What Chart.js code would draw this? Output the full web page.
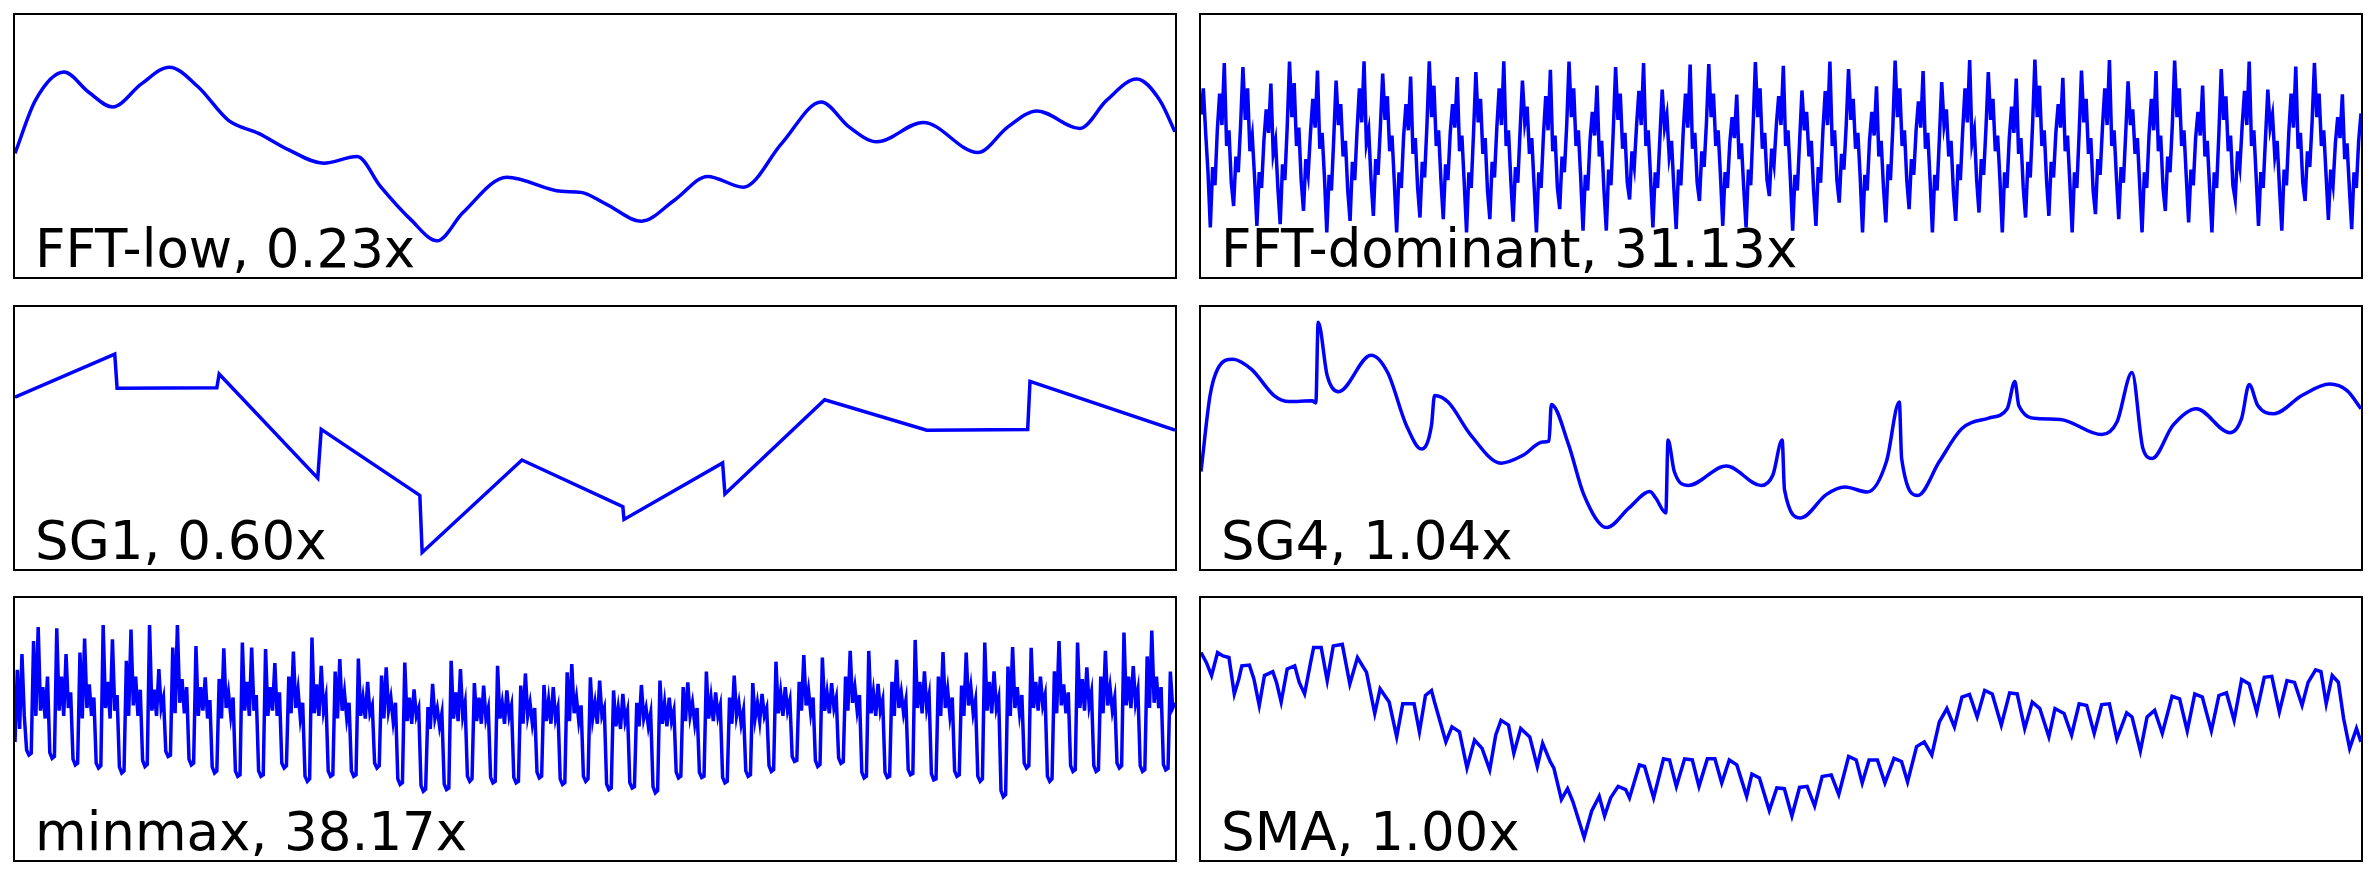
<!DOCTYPE html>
<html lang="en">
<head>
  <meta charset="UTF-8">
  <title>Downsampling comparison</title>
  <script src="https://cdn.jsdelivr.net/npm/chart.js@4.4.1/dist/chart.umd.min.js"></script>
  <style>
    html, body { margin: 0; padding: 0; background: #fff; }
    body { width: 2376px; height: 876px; position: relative; overflow: hidden; }
    .panel { position: absolute; width: 1160px; height: 262px; border: 2px solid #000; }
    .panel canvas { position: absolute; left: 0; top: 0; }
    .label {
      position: absolute; left: 20px; top: 207px;
      font-family: 'DejaVu Sans', sans-serif; font-size: 53px; line-height: 53px;
      color: #000; white-space: nowrap; pointer-events: none;
    }
  </style>
</head>
<body>
  <script>
    // labels of the six panels
    const titles = ['FFT-low, 0.23x', 'FFT-dominant, 31.13x', 'SG1, 0.60x', 'SG4, 1.04x', 'minmax, 38.17x', 'SMA, 1.00x'];

    // values: x in 0..1000 across the panel, y in 0..100 of the panel height
    const fftLowX = [0, 17.6, 42.4, 63.3, 84.2, 109, 133, 158, 184, 210, 236, 266, 295, 315, 341, 364, 386, 424, 471, 488, 510, 540, 569, 597, 628, 661, 695, 719, 743, 783, 830, 856, 881, 918, 941, 967, 987, 1000];
    const fftLowY = [47.2, 67.4, 78.2, 70.6, 64.9, 73.7, 80.1, 72.5, 59.8, 54.8, 48.5, 43.4, 46.0, 34.6, 22.0, 13.8, 24.5, 38.1, 32.7, 32.3, 27.7, 21.3, 29.5, 38.4, 34.3, 51.0, 66.8, 57.3, 51.6, 59.0, 47.5, 57.3, 63.4, 56.7, 67.4, 75.6, 67.4, 55.4];

    const sg1X = [0, 86, 88, 174, 176, 261, 264, 349, 351, 437, 524, 525, 610, 612, 698, 786, 873, 875, 1000];
    const sg1Y = [65.6, 82.0, 69.0, 69.2, 74.4, 34.7, 53.3, 28.1, 6.3, 41.6, 23.8, 18.9, 40.5, 28.6, 64.6, 53.0, 53.2, 71.6, 53.0];

    const sg4X = [0, 7.8, 14.3, 27.4, 43.6, 63, 76, 95.8, 99, 101, 108.8, 118.6, 146.6, 160.9, 177, 190, 198.7, 201.3, 213, 232.6, 258.6, 278, 294.5, 300, 302, 317, 330, 349.8, 369, 387, 392, 400.7, 402.6, 408, 420, 452.8, 483, 493, 501, 503, 517, 539, 555, 574.6, 590.9, 602, 604, 618, 636.5, 656, 679, 695, 701.6, 705, 721, 740.7, 776.5, 789.6, 802.6, 812, 820, 838, 858, 887, 897, 903.6, 911, 925, 949, 973, 988, 1000];
    const sg4Y = [37.2, 66.2, 76.3, 80.1, 76.2, 66.2, 63.9, 64.2, 63.4, 94.2, 73.8, 67.7, 81.6, 75.0, 54.9, 45.8, 54.9, 66.2, 63.7, 51.1, 40.4, 43.5, 48.5, 48.8, 62.8, 47.3, 28.4, 15.8, 23.3, 29.6, 27.1, 21.4, 49.2, 37.2, 31.9, 39.3, 31.9, 35.9, 49.2, 30.3, 19.5, 28.4, 31.3, 29.4, 41.0, 63.7, 42.2, 28.1, 41.0, 53.6, 57.6, 61.2, 71.6, 62.4, 57.4, 57.1, 51.3, 56.1, 75.0, 46.0, 42.2, 54.9, 61.2, 52.0, 57.4, 70.4, 62.4, 59.3, 66.2, 70.6, 68.1, 61.2];

    const smaX = [0, 4.6, 9.1, 14.3, 18.9, 24.1, 28.7, 32.6, 35.2, 41.7, 45.6, 50.2, 54.7, 61.9, 65.1, 69.1, 74.3, 80.8, 84.7, 89.3,
      94.5, 97.1, 103.6, 108.8, 114, 121.8, 128.3, 134.9, 142.7, 149.8, 154.4, 162.2, 168.7, 173.9, 183.7, 188.3, 193.5, 198.7, 201.3, 211.1,
      216.3, 222.8, 229.3, 235.8, 242.3, 248.9, 254.1, 258.6, 265.1, 269.7, 275.6, 283.4, 289.9, 294.5, 301, 304.2, 310.7, 316, 320.5, 330.3,
      336.8, 343.3, 347.9, 353.1, 359.6, 366.1, 369.4, 377.9, 382.4, 390.2, 398.7, 403.9, 409.8, 416.9, 423.5, 429.3, 436.5, 443, 448.9, 455.4,
      461.9, 470.4, 474.9, 481.4, 489.9, 496.4, 502.9, 509.4, 516, 522.5, 529, 535.5, 543.3, 549.8, 558.3, 564.8, 570, 575.9, 583.1, 589.6,
      597.4, 603.9, 609.1, 616.9, 623.5, 630, 636.5, 643, 649.5, 656, 662.5, 669.1, 675.6, 682.1, 689.9, 697.1, 703.6, 710.1, 716.6, 723.1,
      730.9, 736.2, 744, 750.5, 757, 763.5, 770, 776.5, 783.1, 789.6, 798, 802.6, 809.8, 815.6, 822.1, 828.7, 837.1, 843.6, 850.2, 856.7,
      863.2, 871, 877.5, 884, 890.6, 897.1, 903.6, 910.1, 916.6, 923.1, 929.6, 936.2, 942.7, 949.2, 954.4, 960.9, 965.5, 970, 975.2, 980.5,
      985, 990.2, 996.1, 1000];
    const smaY = [79.2, 75.4, 70.4, 79.2, 77.9, 77.3, 63.4, 69.1, 74.1, 74.4, 69.1, 59.0, 70.4, 71.9, 67.8, 60.3, 72.9, 74.1, 67.8, 63.4,
      75.4, 81.1, 81.1, 68.5, 81.7, 82.3, 67.2, 77.3, 71.6, 55.9, 65.3, 60.3, 47.0, 59.6, 59.6, 48.9, 62.8, 64.7, 60.3, 45.1,
      50.8, 48.9, 35.1, 45.8, 42.6, 34.4, 47.7, 53.3, 51.5, 40.7, 50.2, 47.0, 35.7, 44.5, 37.6, 35.1, 23.1, 27.2, 22.4, 8.6,
      18.7, 24.3, 16.8, 23.7, 28.1, 26.9, 23.7, 36.3, 35.7, 23.7, 38.6, 38.2, 28.1, 38.6, 38.2, 28.1, 38.6, 38.6, 29.4, 38.2,
      36.3, 24.3, 32.8, 31.3, 18.9, 27.5, 27.2, 16.8, 27.7, 28.1, 20.6, 31.9, 32.5, 25.0, 39.5, 38.2, 29.4, 38.2, 38.2, 29.4,
      38.8, 37.6, 29.8, 43.3, 45.1, 40.1, 52.7, 57.8, 50.8, 62.2, 63.2, 54.6, 64.7, 63.4, 51.5, 63.8, 63.4, 50.2, 60.3, 57.8,
      47.0, 57.8, 55.9, 47.7, 59.6, 59.0, 48.3, 59.3, 59.6, 46.2, 56.2, 54.6, 41.6, 54.6, 57.1, 48.3, 62.5, 61.5, 49.3, 63.4,
      62.2, 49.3, 62.8, 63.8, 53.3, 68.9, 67.2, 56.5, 69.7, 70.1, 56.5, 68.5, 67.8, 59.0, 67.8, 72.6, 71.9, 59.6, 70.4, 67.8,
      54.0, 42.6, 50.2, 45.1];

    // dense series: evenly spaced samples, one row per cycle (trough first)
    const fftDomY = [62, 72, 55, 40,
      18.9, 42, 35, 56, 70, 58, 81.7, 50, 56, 36,
      27.1, 46, 40, 58, 80.1, 60, 72, 48, 54, 38,
      19.5, 40, 34, 52, 64, 55, 73.8, 47, 52, 34,
      20.2, 43, 37, 57, 82.2, 61, 74, 50, 57, 37,
      25.2, 45, 39, 55, 68, 57, 78.8, 49, 55, 38,
      17.0, 39, 33, 53, 75.0, 58, 66, 46, 52, 33,
      21.4, 44, 37, 56, 72, 59, 82.3, 51, 56, 37,
      23.3, 45, 39, 57, 77.6, 60, 69, 48, 54, 36,
      17.0, 40, 34, 54, 66, 56, 76.5, 47, 53, 34,
      22.7, 44, 38, 58, 82.3, 61, 73, 50, 56, 37,
      22.1, 43, 37, 55, 66, 57, 76.3, 48, 54, 36,
      17.0, 40, 34, 55, 78.2, 59, 68, 47, 53, 33,
      22.1, 44, 38, 57, 72, 58, 82.3, 50, 56, 37,
      21.1, 42, 36, 56, 75.0, 59, 65, 47, 53, 35,
      17.0, 40, 34, 54, 69, 56, 79.1, 48, 54, 34,
      25.9, 46, 40, 58, 82.2, 61, 72, 50, 56, 38,
      17.7, 39, 33, 52, 63, 54, 73.1, 46, 52, 33,
      17.7, 41, 35, 56, 80.1, 60, 70, 49, 55, 36,
      29.6, 48, 42, 58, 71, 58, 81.7, 50, 56, 38,
      18.9, 40, 34, 53, 71.5, 57, 62, 46, 52, 34,
      18.3, 41, 35, 55, 70, 57, 81.1, 49, 55, 36,
      29.0, 48, 42, 59, 81.3, 61, 70, 50, 56, 39,
      19.5, 40, 34, 51, 61, 53, 69.6, 45, 51, 34,
      18.9, 41, 35, 57, 82.0, 61, 72, 49, 55, 37,
      30.9, 49, 43, 58, 69, 58, 80.6, 50, 56, 38,
      17.7, 39, 33, 52, 71.2, 56, 63, 46, 52, 33,
      19.5, 42, 36, 56, 71, 58, 82.2, 50, 56, 37,
      28.4, 47, 41, 58, 79.4, 60, 68, 49, 55, 38,
      17.0, 39, 33, 52, 63, 54, 72.8, 46, 52, 34,
      20.8, 43, 37, 57, 82.6, 61, 72, 50, 56, 37,
      25.9, 45, 39, 56, 67, 57, 78.6, 49, 55, 37,
      17.0, 39, 33, 53, 74.4, 58, 64, 46, 52, 33,
      21.4, 43, 37, 56, 72, 59, 82.8, 51, 56, 37,
      24.6, 45, 39, 57, 78.2, 60, 68, 48, 54, 37,
      17.0, 40, 34, 53, 65, 55, 75.7, 47, 53, 34,
      22.7, 44, 38, 58, 83.0, 61, 73, 50, 56, 37,
      23.3, 44, 38, 55, 66, 57, 76.0, 48, 54, 36,
      17.0, 40, 34, 55, 78.8, 59, 68, 47, 53, 33,
      24.0, 45, 39, 57, 72, 58, 82.8, 50, 56, 38,
      22.1, 42, 36, 55, 74.7, 58, 64, 47, 53, 35,
      17.0, 40, 34, 54, 68, 56, 78.6, 48, 54, 34,
      25.2, 46, 40, 58, 82.6, 61, 72, 50, 56, 38,
      20.8, 41, 35, 53, 63, 54, 73.1, 46, 52, 34,
      17.0, 40, 34, 55, 79.4, 60, 69, 48, 54, 35,
      29.6, 48, 42, 58, 71, 58, 82.2, 50, 56, 38,
      19.5, 40, 34, 53, 71.5, 57, 62, 46, 52, 34,
      17.7, 41, 35, 55, 70, 57, 80.3, 49, 55, 36,
      29.0, 48, 42, 59, 81.7, 61, 70, 50, 56, 39,
      21.8, 41, 35, 51, 61, 53, 69.7, 45, 51, 34,
      18.3, 40, 34, 52, 62.4];

    // minmax: rounded trough, then a cluster of spikes, one row per cycle
    const minmaxY = [45, 72.6, 50, 78.6, 55, 42,
      40.1, 40.8, 83.6, 55, 88.9, 57, 66, 54, 70, 41,
      38.8, 39.5, 88.4, 57, 70, 55, 78.6, 58, 64, 38.5,
      36.3, 37, 79.2, 54, 84.5, 58, 67, 55, 62, 37,
      35.1, 36, 89.7, 58, 68, 54, 84.2, 57, 63, 35.5,
      33.2, 34, 76.0, 55, 88.0, 59, 70, 55, 65, 38,
      35.7, 36.5, 89.7, 57, 65, 55, 72.9, 58, 62, 41.5,
      39.5, 40, 81.1, 56, 89.7, 60, 69, 56, 66, 38.5,
      36.3, 37, 81.7, 55, 66, 57, 69.7, 54, 61, 35.5,
      33.2, 34, 69.1, 54, 80.8, 58, 64, 55, 62, 34,
      31.9, 32.5, 83.0, 57, 68, 55, 81.1, 57, 63, 34,
      31.9, 32.5, 80.5, 55, 66, 57, 75.2, 55, 64, 37,
      35.1, 36, 70.0, 56, 79.6, 58, 65, 54, 60, 32,
      30.0, 31, 84.9, 56, 67, 55, 74.1, 57, 62, 34,
      31.9, 32.5, 71.9, 54, 76.7, 57, 64, 54, 60, 34,
      31.9, 32.5, 76.9, 55, 62, 54, 68.0, 56, 59, 37,
      35.1, 36, 70.4, 54, 73.5, 57, 62, 53, 60, 31,
      28.8, 29.5, 75.4, 53, 62, 52, 65.1, 55, 58, 28.5,
      26.2, 27, 58.4, 50, 67.2, 54, 58, 51, 56, 29,
      26.9, 27.5, 76.0, 54, 64, 53, 72.9, 55, 60, 32,
      30.0, 31, 67.5, 53, 62, 52, 66.6, 54, 58, 31.5,
      29.4, 30, 74.1, 54, 60, 52, 64.7, 55, 59, 31.5,
      29.4, 30, 66.6, 52, 71.2, 55, 60, 52, 58, 33.5,
      31.3, 32, 66.8, 53, 61, 52, 66.0, 54, 58, 31,
      28.8, 29.5, 71.6, 53, 74.8, 56, 62, 53, 59, 32,
      30.0, 31, 69.7, 54, 60, 52, 68.5, 55, 58, 29,
      26.9, 27.5, 64.7, 51, 58, 50, 63.4, 53, 57, 29.5,
      27.5, 28, 60.0, 51, 66.8, 54, 58, 51, 56, 28,
      25.6, 26.5, 68.5, 52, 60, 51, 62.0, 53, 57, 33.5,
      31.3, 32, 66.0, 53, 67.8, 55, 60, 52, 58, 33.5,
      31.5, 32, 71.9, 54, 62, 53, 64.0, 55, 59, 31.5,
      29.4, 30, 62.0, 52, 70.4, 55, 60, 52, 57, 34,
      31.9, 32.5, 67.5, 54, 60, 53, 63.4, 55, 58, 36,
      33.8, 34.5, 75.7, 56, 64, 55, 66.0, 57, 61, 39.5,
      37.6, 38, 68.0, 57, 78.2, 59, 65, 56, 62, 38,
      35.7, 36.5, 77.3, 57, 64, 56, 67.5, 58, 62, 39,
      36.9, 37.5, 70.0, 57, 79.8, 60, 66, 57, 63, 33.5,
      31.3, 32, 79.8, 56, 64, 55, 67.2, 57, 61, 33.5,
      31.5, 32, 68.0, 55, 76.4, 58, 64, 56, 61, 34.5,
      32.5, 33, 84.0, 58, 68, 56, 72.0, 58, 63, 33,
      30.6, 31, 70.0, 55, 79.4, 58, 65, 55, 62, 34,
      31.9, 32.5, 66.6, 55, 79.2, 59, 66, 56, 61, 32,
      30.0, 31, 83.0, 57, 68, 56, 72.0, 58, 62, 26.5,
      24.1, 25, 73.8, 55, 81.3, 58, 66, 56, 63, 37,
      35.1, 36, 81.0, 58, 68, 57, 70.0, 59, 63, 32,
      30.0, 31, 72.0, 56, 83.6, 59, 67, 56, 64, 36,
      33.8, 34.5, 83.0, 58, 69, 57, 73.5, 59, 64, 36,
      33.8, 34.5, 70.0, 56, 79.8, 59, 66, 57, 62, 37,
      35.1, 36, 86.8, 59, 70, 58, 74.0, 60, 65, 36,
      33.8, 34.5, 77.7, 58, 87.6, 60, 70, 58, 66, 36.5,
      34.4, 35, 71.9, 58, 60];

    function pairs(xs, ys) { return ys.map((y, i) => ({ x: xs[i], y: y })); }
    function indexed(ys) { return ys.map((y, i) => ({ x: i, y: y })); }

    const panels = [
      { left: 13,   top: 13,  data: pairs(fftLowX, fftLowY), xmax: 1000, smooth: true },
      { left: 1199, top: 13,  data: indexed(fftDomY), xmax: fftDomY.length - 1, smooth: false },
      { left: 13,   top: 305, data: pairs(sg1X, sg1Y), xmax: 1000, smooth: false },
      { left: 1199, top: 305, data: pairs(sg4X, sg4Y), xmax: 1000, smooth: true },
      { left: 13,   top: 596, data: indexed(minmaxY), xmax: minmaxY.length - 1, smooth: false },
      { left: 1199, top: 596, data: pairs(smaX, smaY), xmax: 1000, smooth: false }
    ];

    panels.forEach((p, i) => {
      const div = document.createElement('div');
      div.className = 'panel';
      div.style.left = p.left + 'px';
      div.style.top = p.top + 'px';
      const canvas = document.createElement('canvas');
      canvas.width = 1160;
      canvas.height = 262;
      canvas.style.width = '1160px';
      canvas.style.height = '262px';
      div.appendChild(canvas);
      const label = document.createElement('div');
      label.className = 'label';
      label.textContent = titles[i];
      div.appendChild(label);
      document.body.appendChild(div);

      new Chart(canvas.getContext('2d'), {
        type: 'line',
        data: {
          datasets: [{
            data: p.data,
            borderColor: '#0000ff',
            borderWidth: 3.5,
            pointRadius: 0,
            fill: false,
            cubicInterpolationMode: p.smooth ? 'monotone' : 'default',
            tension: 0
          }]
        },
        options: {
          responsive: false,
          animation: false,
          layout: { padding: 0 },
          scales: {
            x: { type: 'linear', display: false, min: 0, max: p.xmax },
            y: { display: false, min: 0, max: 100 }
          },
          plugins: { legend: { display: false }, tooltip: { enabled: false } }
        }
      });
    });
  </script>
</body>
</html>
